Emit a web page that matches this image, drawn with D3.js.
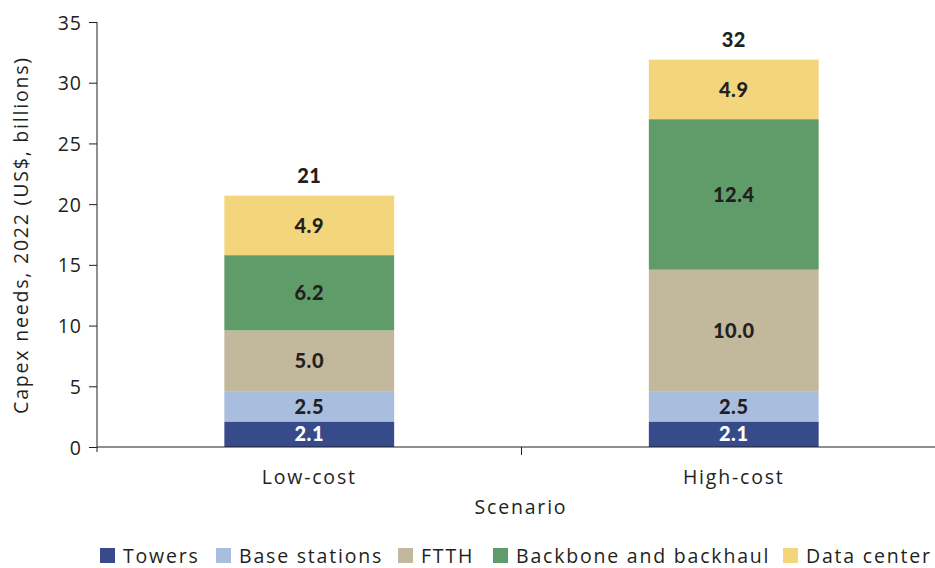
<!DOCTYPE html>
<html><head><meta charset="utf-8">
<script src="https://cdn.jsdelivr.net/npm/d3@7"></script>
<style>body{margin:0;background:#fff}svg{display:block}
text{font-family:"Open Sans",sans-serif}
.lt{font-size:19.5px;letter-spacing:1.8px;fill:#231f20}
.bl{font-family:Lato,sans-serif;font-size:20px;font-weight:900;letter-spacing:0.5px}
</style>
</head><body>
<svg id="c" width="935" height="568"></svg>
<script>
const categories = ["Low-cost", "High-cost"];
const seriesNames = ["Towers", "Base stations", "FTTH", "Backbone and backhaul", "Data center"];
const towers = [2.1, 2.1];
const baseStations = [2.5, 2.5];
const ftth = [5.0, 10.0];
const backbone = [6.2, 12.4];
const dataCenter = [4.9, 4.9];
const totals = ["21", "32"];
const yTicks = [0, 5, 10, 15, 20, 25, 30, 35];
const colors = ["#374b8a", "#a9bedf", "#c2b89b", "#609c69", "#f3d67b"];
const labelColors = ["#ffffff", "#231f20", "#231f20", "#231f20", "#231f20"];

const seriesVals = [towers, baseStations, ftth, backbone, dataCenter];
const rows = categories.map((c, i) => {
  const r = {cat: c};
  seriesNames.forEach((s, j) => r[s] = seriesVals[j][i]);
  return r;
});
const stacked = d3.stack().keys(seriesNames)(rows);

const svg = d3.select("#c");
const x = d3.scaleBand().domain(categories).range([97, 946]).paddingInner(0.6).paddingOuter(0.3);
const y = d3.scaleLinear().domain([0, 35]).range([447, 22]);
const ink = "#231f20";

// y axis
const ya = svg.append("g").attr("transform", "translate(97,0)")
  .call(d3.axisLeft(y).tickValues(yTicks).tickSize(8).tickSizeOuter(0).tickPadding(7));
ya.select(".domain").attr("stroke", ink).attr("d", "M0,22V452");
ya.selectAll(".tick line").attr("stroke", ink);
ya.selectAll(".tick text").attr("class", "lt").attr("font-size", null).attr("font-family", null)
  .style("letter-spacing", "1px").attr("dy", "0.36em");

// bars
const g = svg.append("g");
stacked.forEach((layer, j) => {
  g.selectAll(null).data(layer).join("rect")
    .attr("x", d => x(d.data.cat)).attr("width", x.bandwidth())
    .attr("y", d => y(d[1])).attr("height", d => y(d[0]) - y(d[1]))
    .attr("fill", colors[j]);
  g.selectAll(null).data(layer).join("text").attr("class", "bl")
    .attr("x", d => x(d.data.cat) + x.bandwidth() / 2)
    .attr("y", d => (y(d[0]) + y(d[1])) / 2)
    .attr("dy", "0.36em").attr("text-anchor", "middle")
    .attr("fill", labelColors[j])
    .text(d => (d[1] - d[0]).toFixed(1));
});
const topLayer = stacked[stacked.length - 1];
g.selectAll(null).data(topLayer).join("text").attr("class", "bl")
  .attr("x", d => x(d.data.cat) + x.bandwidth() / 2)
  .attr("y", d => y(d[1]) - 20).attr("dy", "0.36em").attr("text-anchor", "middle")
  .attr("fill", ink)
  .text((d, i) => totals[i]);

// x axis
const xStep = x.step();
const xa = svg.append("g").attr("transform", "translate(0,447)");
xa.append("line").attr("x1", 97).attr("x2", 946).attr("stroke", ink).attr("stroke-width", 1.2);
xa.selectAll(null).data(categories.slice(1)).join("line")
  .attr("x1", d => x(d) - x.paddingInner() * xStep / 2).attr("x2", d => x(d) - x.paddingInner() * xStep / 2)
  .attr("y1", 0).attr("y2", 8).attr("stroke", ink);
xa.selectAll(null).data(categories).join("text").attr("class", "lt")
  .attr("x", d => x(d) + x.bandwidth() / 2).attr("y", 30).attr("dy", "0.36em")
  .attr("text-anchor", "middle").text(d => d);

svg.append("text").attr("class", "lt").attr("x", 521).attr("y", 507).attr("dy", "0.36em").attr("text-anchor", "middle")
  .text("Scenario");
svg.append("text").attr("class", "lt").attr("transform", "translate(21,235) rotate(-90)").attr("dy", "0.36em")
  .attr("text-anchor", "middle")
  .text("Capex needs, 2022 (US$, billions)");

// legend
const legX = [100, 216, 398, 493, 783];
const lg = svg.append("g").attr("transform", "translate(0,556)");
seriesNames.forEach((s, j) => {
  lg.append("rect").attr("x", legX[j]).attr("y", -8).attr("width", 15).attr("height", 15).attr("fill", colors[j]);
  lg.append("text").attr("class", "lt").attr("x", legX[j] + 23).attr("y", 0).attr("dy", "0.36em")
    .text(s);
});
</script>
</body></html>
